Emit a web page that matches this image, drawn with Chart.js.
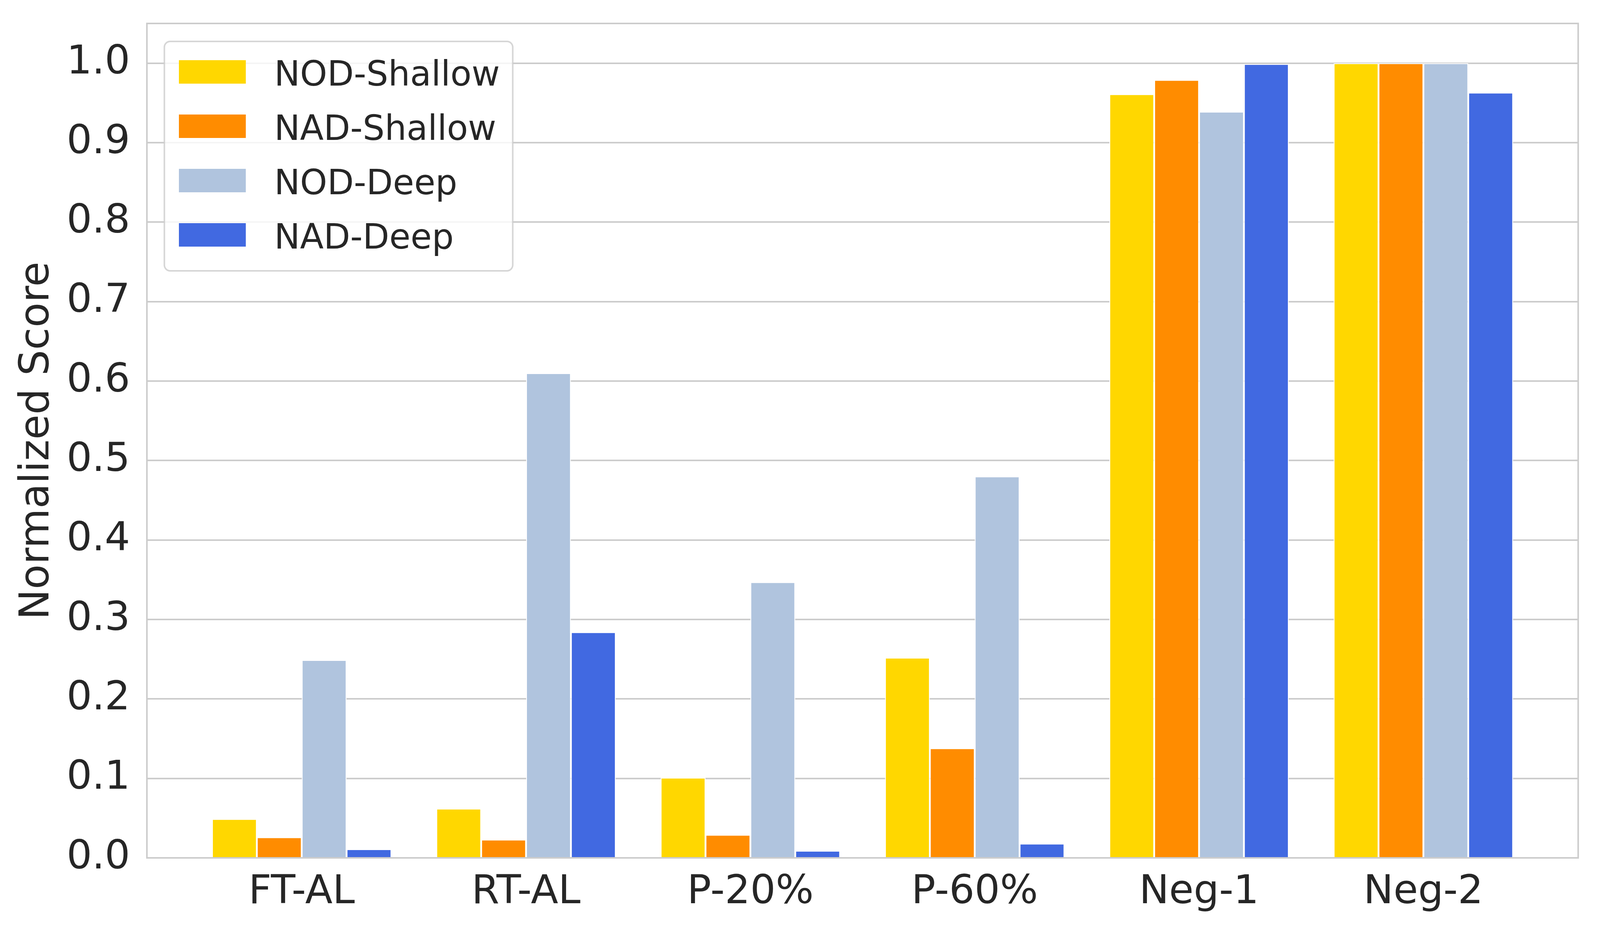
<!DOCTYPE html>
<html>
<head>
<meta charset="utf-8">
<title>Normalized Score</title>
<script src="https://cdn.jsdelivr.net/npm/chart.js@4.4.0/dist/chart.umd.min.js"></script>
<style>
html, body { margin: 0; padding: 0; background: #fff; overflow: hidden; }
#wrap { position: absolute; left: 0; top: 0; }
</style>
</head>
<body>
<div id="wrap"><canvas id="scoreChart"></canvas></div>
<script>
// values
const categories = ["FT-AL", "RT-AL", "P-20%", "P-60%", "Neg-1", "Neg-2"];
const seriesNames = ["NOD-Shallow", "NAD-Shallow", "NOD-Deep", "NAD-Deep"];
const nodShallow = [0.049, 0.062, 0.101, 0.252, 0.961, 1.000];
const nadShallow = [0.026, 0.023, 0.029, 0.138, 0.979, 1.000];
const nodDeep    = [0.249, 0.610, 0.347, 0.480, 0.939, 1.000];
const nadDeep    = [0.011, 0.284, 0.009, 0.018, 0.999, 0.963];
const yTicks = [0.0, 0.1, 0.2, 0.3, 0.4, 0.5, 0.6, 0.7, 0.8, 0.9, 1.0];

const seriesColors = ["#FFD700", "#FF8C00", "#B0C4DE", "#4169E1"];
const textColor = "#262626";
const gridColor = "#cccccc";
const fontFamily = "'DejaVu Sans', sans-serif";

const allSeries = [nodShallow, nadShallow, nodDeep, nadDeep];

// layout measured on the 4400x2400 reference; map it onto the real viewport
const W = window.innerWidth, H = window.innerHeight;
const kx = W / 4400, ky = H / 2400;
const sx = v => v * kx;
const sy = v => v * ky;

const canvas = document.getElementById("scoreChart");
canvas.style.width = W + "px";
canvas.style.height = H + "px";
canvas.width = W;
canvas.height = H;

// frame round the plot area (all four spines)
const framePlugin = {
    id: "frame",
    afterDatasetsDraw(chart){
        const {ctx, chartArea: a} = chart;
        ctx.save();
        ctx.strokeStyle = gridColor;
        ctx.lineWidth = sy(4);
        ctx.strokeRect(a.left, a.top, a.right - a.left, a.bottom - a.top);
        ctx.restore();
    }
};

// legend box in the upper left of the plot
const boxLegend = {
    id: "boxLegend",
    afterDraw(chart){
        const {ctx, chartArea: a} = chart;
        const x0 = a.left + sx(48), y0 = a.top + sy(46), w = sx(958), h = sy(587);
        ctx.save();
        ctx.beginPath();
        ctx.roundRect(x0, y0, w, h, sx(16));
        ctx.fillStyle = "rgba(255,255,255,0.8)";
        ctx.fill();
        ctx.lineWidth = sy(4);
        ctx.strokeStyle = "rgba(204,204,204,0.8)";
        ctx.stroke();
        ctx.font = sx(95) + "px " + fontFamily;
        ctx.textBaseline = "alphabetic";
        ctx.textAlign = "left";
        chart.data.datasets.forEach((ds, i) => {
            const cy = y0 + sy(78 + i * 139);
            ctx.fillStyle = ds.backgroundColor;
            ctx.fillRect(x0 + sx(40), cy - sy(30), sx(184), sy(60));
            ctx.fillStyle = textColor;
            ctx.fillText(ds.label, x0 + sx(302), cy + sy(35));
        });
        ctx.restore();
    }
};

new Chart(canvas, {
    type: "bar",
    data: {
        datasets: seriesNames.map((name, s) => ({
            label: name,
            data: allSeries[s].map((v, i) => ({x: i, y: v})),
            backgroundColor: seriesColors[s],
            borderColor: "#ffffff",
            borderWidth: sx(2.5),
            barPercentage: 1.0,
            categoryPercentage: 0.8
        }))
    },
    options: {
        responsive: false,
        animation: false,
        layout: {padding: {left: 0, top: sy(60), right: sx(60), bottom: 0}},
        plugins: {
            legend: {display: false},
            tooltip: {enabled: false}
        },
        scales: {
            x: {
                type: "linear",
                min: -0.69,
                max: 5.69,
                offset: false,
                grid: {display: false, drawTicks: false},
                border: {display: false},
                afterBuildTicks: scale => { scale.ticks = categories.map((c, i) => ({value: i})); },
                afterFit: scale => { scale.height = sy(205); scale.paddingLeft = 0; scale.paddingRight = 0; },
                ticks: {
                    autoSkip: false,
                    maxRotation: 0,
                    padding: sy(28),
                    color: textColor,
                    font: {family: fontFamily, size: sx(110)},
                    callback: v => categories[v]
                }
            },
            y: {
                min: 0,
                max: 1.05,
                grid: {color: gridColor, lineWidth: sy(4), drawTicks: false},
                border: {display: false},
                afterBuildTicks: scale => { scale.ticks = yTicks.map(v => ({value: v})); },
                afterFit: scale => { scale.width = sx(404); scale.paddingTop = 0; scale.paddingBottom = 0; },
                ticks: {
                    padding: sx(46),
                    color: textColor,
                    font: {family: fontFamily, size: sx(110)},
                    callback: v => v.toFixed(1)
                },
                title: {
                    display: true,
                    text: "Normalized Score",
                    color: textColor,
                    padding: {top: sx(37), bottom: 0},
                    font: {family: fontFamily, size: sx(112)}
                }
            }
        }
    },
    plugins: [framePlugin, boxLegend]
});
</script>
</body>
</html>
